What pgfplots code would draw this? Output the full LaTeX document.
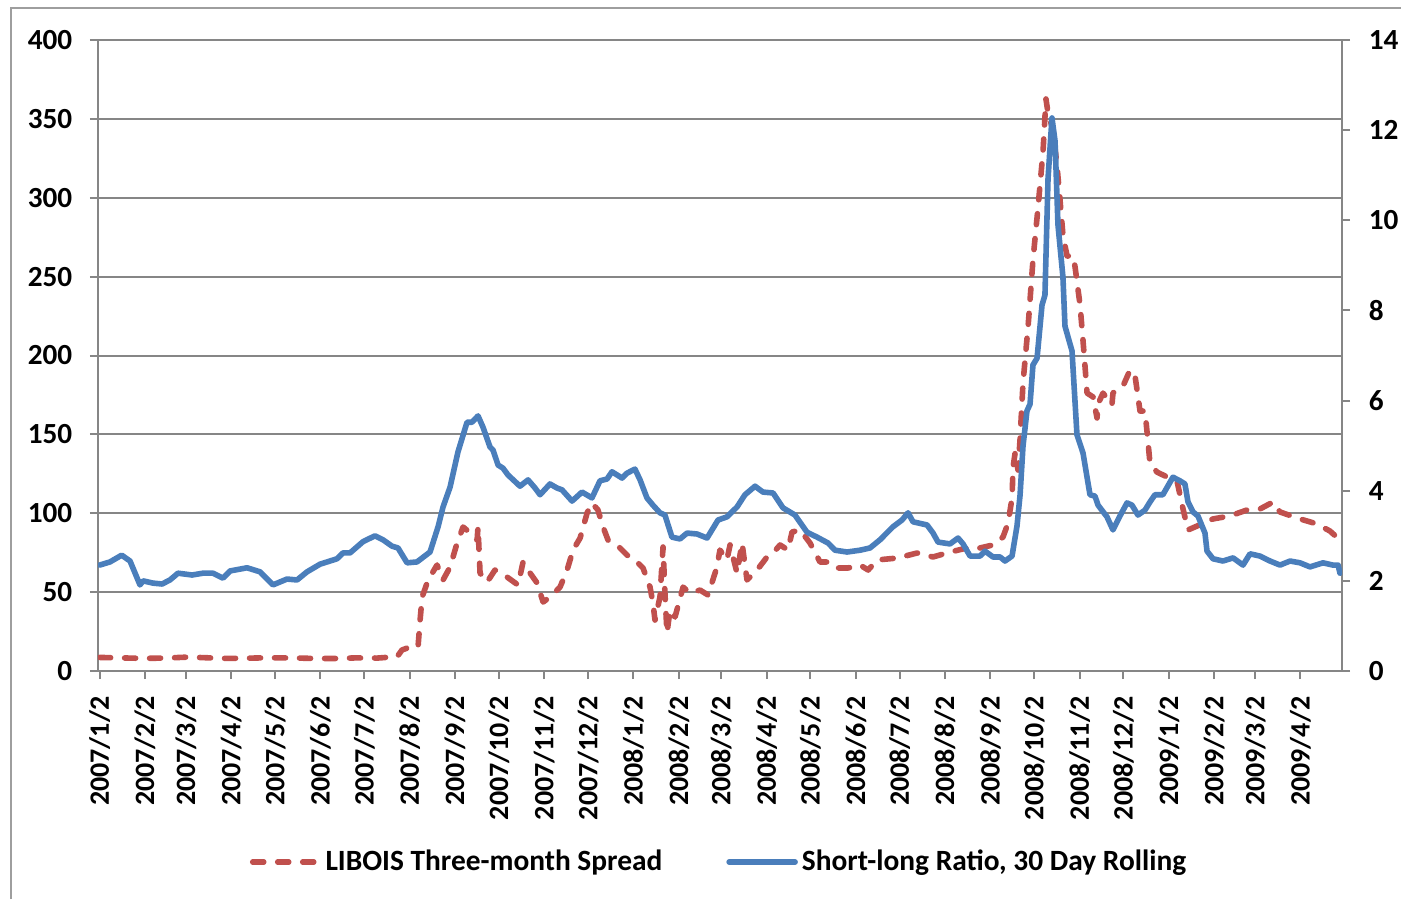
\documentclass[border=0pt]{standalone}
\usepackage{fontspec}
\setmainfont{Carlito}
\usepackage{pgfplots}
\pgfplotsset{compat=1.18}
\definecolor{cred}{HTML}{C0504D}
\definecolor{cblue}{HTML}{4A7EBB}
\definecolor{cgrid}{HTML}{868686}
\begin{document}
\fontsize{14}{17}\selectfont
\begin{tikzpicture}
\path[use as bounding box] (-49pt,-114pt) rectangle (651.5pt,335.5pt);
\draw[color=cgrid!80, line width=1pt] (-43.5pt,-114pt) -- (-43.5pt,331.5pt) -- (651.5pt,331.5pt);
\pgfplotsset{mystyle/.style={
  scale only axis, width=622pt, height=315.5pt, at={(0pt,0pt)}, anchor=south west,
  xmin=-1.1, xmax=849.4,
  axis line style={cgrid, line width=1pt},
  tick style={cgrid, line width=1pt},
  tick align=outside, major tick length=4pt,
  /pgf/number format/assume math mode=true,
  yticklabel style={font=\fontsize{14.6}{18}\selectfont\bfseries},
  xticklabel style={font=\fontsize{14}{17}\selectfont\bfseries},
}}
\begin{axis}[mystyle,
  ymin=0, ymax=400, ytick={0,50,...,400},
  ymajorgrids, grid style={cgrid, line width=1pt},
  xtick pos=left, ytick pos=left,
  xtick={0,31,59,90,120,151,181,212,243,273,304,334,365,396,425,456,486,517,547,578,609,639,670,700,731,762,790,821},
  xticklabels={2007/1/2,2007/2/2,2007/3/2,2007/4/2,2007/5/2,2007/6/2,2007/7/2,2007/8/2,2007/9/2,2007/10/2,2007/11/2,2007/12/2,2008/1/2,2008/2/2,2008/3/2,2008/4/2,2008/5/2,2008/6/2,2008/7/2,2008/8/2,2008/9/2,2008/10/2,2008/11/2,2008/12/2,2009/1/2,2009/2/2,2009/3/2,2009/4/2},
  xticklabel style={rotate=90, anchor=east},
  xticklabel shift=4pt, yticklabel shift=4pt,
]
\addplot[cred, line width=2.8pt, line cap=round, line join=round, dash pattern=on 5.5pt off 7pt] table {
0 8.6
15 8.3
30 8.0
45 8.2
60 8.8
70 8.5
85 8.0
100 8.1
115 8.4
130 8.3
145 8.0
160 7.9
175 8.3
190 8.2
200 8.9
203.3 8.9
206.7 13.3
212.2 15.2
217.7 15.2
219.1 32.3
220.5 46.9
224.6 57.7
230.7 67.2
234.8 57.7
239.6 65.9
244.4 81.1
248.5 91.3
253.3 87.5
258.1 83.0
258.7 91.3
260.1 62.1
264.9 56.4
270.3 64.0
278.5 59.6
286.1 54.5
289.5 69.1
294.3 62.1
299.1 55.8
303.2 43.7
307.9 46.9
314.8 53.2
319.6 64.0
323.7 76.7
328.5 84.3
333.3 100.2
336.6 106.5
340.7 102.1
344.2 91.3
347.6 83.0
353.7 79.9
360.6 73.5
367.4 69.1
371.5 65.3
376.3 53.2
378.3 43.1
379.7 32.3
383.1 46.9
385.2 78.6
386.5 49.4
387.9 24.1
390.0 38.7
393.4 34.2
398.9 53.2
403.6 49.4
410.5 51.3
415.9 48.2
422.1 65.9
424.1 76.7
428.9 70.4
431.0 79.9
435.8 62.1
439.2 81.1
442.6 57.7
449.5 64.0
456.3 72.3
460.4 74.8
465.2 79.9
470.6 76.7
473.4 88.1
478.9 89.4
485.7 81.1
492.5 69.1
499.4 69.1
504.8 65.3
511.7 65.3
519.9 67.2
525.4 64.0
531.6 70.4
545.3 71.6
558.9 74.8
569.8 72.3
581.4 75.4
593.1 78.0
601.9 78.0
610.8 79.9
617.6 84.9
621.1 93.8
623.8 109.7
624.5 129.3
625.9 138.2
627.9 127.4
629.3 147.1
631.3 182.6
634.8 218.7
638.1 260.5
641.6 294.1
645.0 329.6
647.0 362.6
648.4 353.7
651.8 343.0
654.5 320.8
656.6 298.6
658.6 276.4
661.4 263.1
665.5 263.1
666.9 256.1
670.3 232.0
672.3 209.8
675.1 176.2
679.2 173.7
681.9 160.4
682.6 169.3
686.0 176.2
692.1 168.6
692.8 176.2
699.7 180.7
704.5 190.8
707.9 187.0
711.3 164.8
714.7 164.8
716.1 151.5
718.1 131.9
722.9 126.1
729.8 123.0
736.6 120.4
740.7 102.7
744.1 89.4
750.3 91.9
761.2 96.4
772.8 98.3
784.5 102.1
793.3 102.7
802.2 107.1
807.0 100.8
820.7 96.4
832.3 93.2
841.2 88.7
848.0 83.0
};
\end{axis}
\begin{axis}[mystyle,
  ymin=0, ymax=14, ytick={0,2,...,14},
  axis y line*=right, axis x line=none,
  yticklabel shift=4.5pt,
  legend style={at={(0.5,-0.3027)}, anchor=center, draw=none, fill=none,
    font=\fontsize{14.7}{17}\selectfont\bfseries,
    /tikz/every even column/.append style={column sep=30pt}},
  legend columns=2,
  legend image code/.code={\draw[#1] (0pt,0pt) -- (33pt,0pt);},
]
\addlegendimage{cred, line width=2.8pt, line cap=round, dash pattern=on 5.5pt off 7pt}
\addlegendentry{LIBOIS Three-month Spread}
\addplot[cblue, line width=2.8pt, line join=round, line cap=round] table {
0 2.35
7.1 2.42
15.1 2.57
20.8 2.44
27.6 1.91
29.7 2.00
36.5 1.95
42.7 1.93
48.1 2.02
53.6 2.17
63.2 2.13
70.7 2.17
77.5 2.17
84.4 2.06
89.2 2.22
100.8 2.29
109.7 2.20
118.5 1.91
128.1 2.04
135.0 2.02
141.8 2.20
150.7 2.37
162.3 2.49
166.4 2.62
171.2 2.62
180.1 2.87
188.3 3.00
193.8 2.91
199.9 2.77
204.0 2.73
210.2 2.40
217.0 2.42
225.9 2.64
231.4 3.20
234.8 3.64
239.6 4.08
245.0 4.86
251.2 5.52
254.6 5.52
258.7 5.66
262.1 5.41
266.9 4.97
269.0 4.90
272.4 4.57
275.8 4.50
279.2 4.35
287.4 4.10
292.9 4.24
297.7 4.06
301.1 3.91
307.9 4.15
312.7 4.06
316.1 4.02
323.0 3.77
329.8 3.97
336.6 3.84
342.1 4.22
346.9 4.26
350.3 4.42
357.2 4.28
360.6 4.39
366.0 4.48
369.5 4.24
374.2 3.84
378.3 3.68
383.1 3.51
386.5 3.46
391.3 2.97
396.8 2.93
401.6 3.06
408.4 3.04
415.3 2.95
422.8 3.35
428.9 3.42
435.8 3.64
441.2 3.91
448.1 4.10
453.5 3.97
460.4 3.95
467.2 3.62
475.4 3.46
483.6 3.08
490.5 2.97
498.0 2.84
502.8 2.68
511.0 2.64
519.9 2.68
526.7 2.73
533.5 2.91
542.4 3.20
548.6 3.35
552.7 3.51
556.1 3.31
565.7 3.24
569.8 3.06
573.2 2.86
581.4 2.82
586.9 2.95
590.3 2.82
595.1 2.55
601.9 2.55
605.3 2.66
610.8 2.53
615.6 2.53
619.0 2.44
623.8 2.55
627.2 3.22
629.3 3.91
631.3 4.99
634.0 5.77
636.1 5.92
638.1 6.79
640.9 6.94
644.3 8.12
646.3 8.34
648.4 10.92
651.1 12.27
653.2 11.76
655.2 9.90
658.6 8.74
660.0 7.65
664.8 7.10
668.2 5.24
672.3 4.84
677.1 3.91
680.5 3.88
682.6 3.68
688.7 3.42
692.8 3.13
697.6 3.44
702.4 3.73
705.8 3.68
709.9 3.46
714.7 3.57
718.1 3.75
721.5 3.91
726.9 3.91
733.8 4.30
738.6 4.22
742.0 4.15
744.1 3.75
747.5 3.53
750.9 3.44
755.7 3.06
757.1 2.66
761.2 2.49
768.0 2.44
774.9 2.51
781.7 2.35
786.5 2.60
793.3 2.55
800.2 2.44
807.0 2.35
813.9 2.44
820.7 2.40
827.5 2.31
836.4 2.40
843.2 2.35
846.7 2.35
848.0 2.17
};
\addlegendentry{Short-long Ratio, 30 Day Rolling}
\end{axis}
\end{tikzpicture}
\end{document}
